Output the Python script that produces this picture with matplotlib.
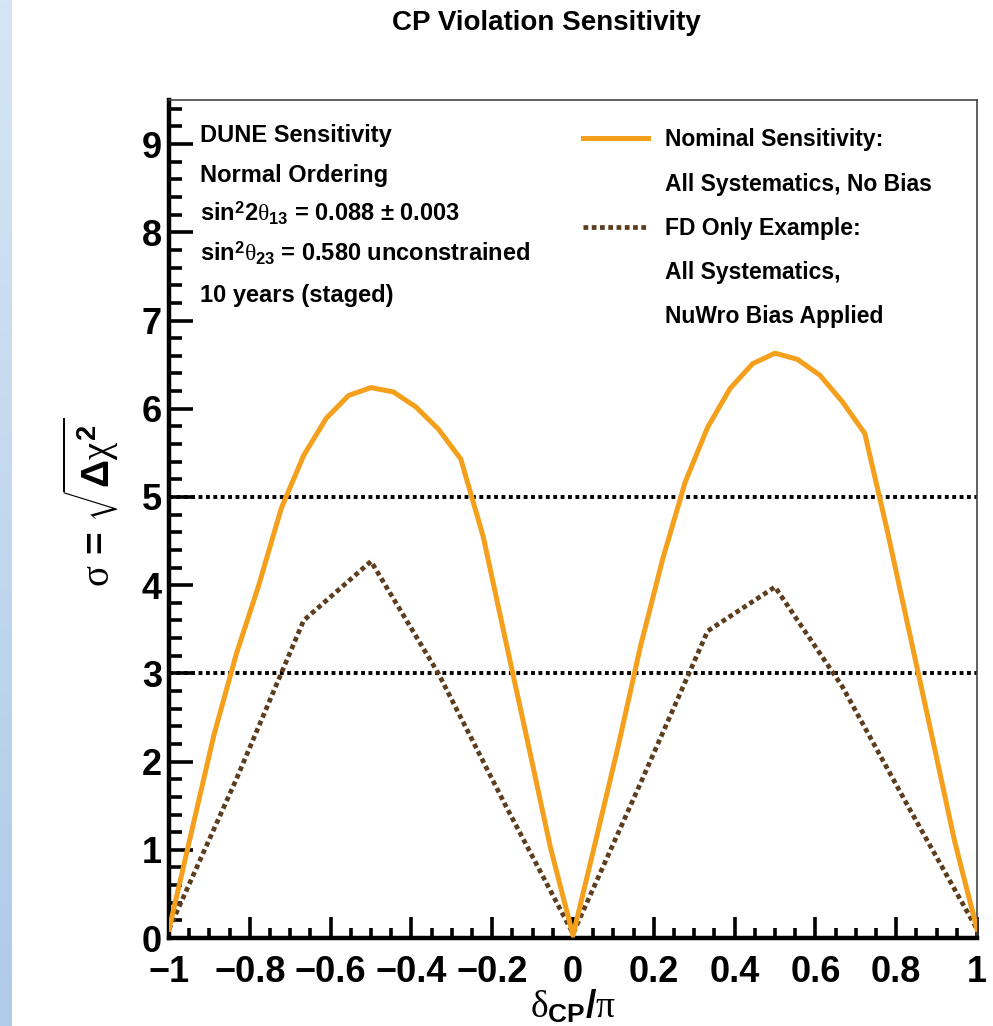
import numpy as np
import matplotlib
matplotlib.use("Agg")
import matplotlib.pyplot as plt
from matplotlib.lines import Line2D
from matplotlib.ticker import MultipleLocator

plt.rcParams['font.family'] = ['Liberation Sans', 'DejaVu Sans']
plt.rcParams['font.weight'] = 'bold'
plt.rcParams['mathtext.fontset'] = 'custom'
plt.rcParams['mathtext.rm'] = 'Liberation Sans:bold'
plt.rcParams['mathtext.bf'] = 'Liberation Sans:bold'
plt.rcParams['mathtext.it'] = 'Liberation Serif:normal'

# delta_CP sampling (degrees) for the nominal curve, 10 degree steps
nominal_deg = [-180, -170, -160, -150, -140, -130, -120, -110, -100, -90,
               -80, -70, -60, -50, -40, -30, -20, -10, 0,
               10, 20, 30, 40, 50, 60, 70, 80, 90,
               100, 110, 120, 130, 140, 150, 160, 170, 180]
nominal_sigma = [0.10, 1.20, 2.30, 3.22, 4.00, 4.87, 5.47, 5.89, 6.15, 6.24,
                 6.19, 6.02, 5.77, 5.43, 4.55, 3.37, 2.20, 1.02, 0.03,
                 1.09, 2.16, 3.30, 4.30, 5.17, 5.79, 6.23, 6.51, 6.63,
                 6.56, 6.38, 6.08, 5.72, 4.62, 3.45, 2.28, 1.10, 0.10]

# FD only example with NuWro bias, 30 degree steps
biased_deg = [-180, -150, -120, -90, -60, -30, 0, 30, 60, 90, 120, 150, 180]
biased_sigma = [0.10, 1.80, 3.60, 4.27, 3.00, 1.50, 0.05,
                1.75, 3.48, 3.98, 2.85, 1.46, 0.10]

sigma_levels = [3, 5]

info_lines = ["DUNE Sensitivity",
              "Normal Ordering",
              r"sin$^{2}$2$\theta_{13}$ = 0.088 $\pm$ 0.003",
              r"sin$^{2}$$\theta_{23}$ = 0.580 unconstrained",
              "10 years (staged)"]
legend_labels = ["Nominal Sensitivity:", "All Systematics, No Bias",
                 "FD Only Example:", "All Systematics,", "NuWro Bias Applied"]

orange = '#f4a01c'
brown = '#5c3d1e'

fig = plt.figure(figsize=(9.93, 10.26), dpi=100)

# light blue strip on the left edge
strip = fig.add_axes([0, 0, 12 / 993, 1])
strip.imshow(np.linspace(0, 1, 256).reshape(-1, 1), aspect='auto',
             cmap=matplotlib.colors.LinearSegmentedColormap.from_list(
                 'bg', ['#d6e5f4', '#aecbe9']))
strip.axis('off')

ax = fig.add_axes([169 / 993, 1 - 938 / 1026, 808 / 993, 838 / 1026])

x_nom = np.array(nominal_deg) / 180.0
x_bias = np.array(biased_deg) / 180.0

for lvl in sigma_levels:
    ax.axhline(lvl, color='black', lw=2.8, ls=(0, (1, 0.9)), zorder=1)

ax.plot(x_nom, nominal_sigma, color=orange, lw=3.6, zorder=3)
ax.plot(x_bias, biased_sigma, color=brown, lw=3.4, ls=(0, (1, 0.75)), zorder=2)

ax.set_xlim(-1, 1)
ax.set_ylim(0, 9.5)

ax.xaxis.set_major_locator(MultipleLocator(0.2))
ax.xaxis.set_minor_locator(MultipleLocator(0.05))
ax.yaxis.set_major_locator(MultipleLocator(1))
ax.yaxis.set_minor_locator(MultipleLocator(0.2))
ax.tick_params(axis='both', which='both', direction='in', top=False, right=False,
               width=2.6, labelsize=26)
ax.tick_params(axis='y', which='major', length=17, pad=5)
ax.tick_params(axis='y', which='minor', length=9)
ax.tick_params(axis='x', which='major', length=15, pad=12)
ax.tick_params(axis='x', which='minor', length=7.5)
ax.set_xticks([-1, -0.8, -0.6, -0.4, -0.2, 0, 0.2, 0.4, 0.6, 0.8, 1])
ax.set_xticklabels(['\u22121', '\u22120.8', '\u22120.6', '\u22120.4', '\u22120.2',
                    '0', '0.2', '0.4', '0.6', '0.8', '1'])

for side in ['left', 'bottom']:
    ax.spines[side].set_linewidth(3.2)
for side in ['top', 'right']:
    ax.spines[side].set_linewidth(1.2)
    ax.spines[side].set_color('#444444')

ax.set_xlabel(r'$\delta_{\mathrm{CP}}/\pi$', fontsize=27)
ax.xaxis.set_label_coords(0.5, -0.06)
ax.set_ylabel(r'$\sigma\,\mathrm{=}\,\sqrt{\Delta\chi^{2}}$', fontsize=28)
ax.yaxis.set_label_coords(-0.06, 0.52)

for i, line in enumerate(info_lines):
    ax.text(0.038, 0.9499 - i * 0.0477, line, transform=ax.transAxes,
            fontsize=17, fontweight='bold', va='baseline', ha='left')

handles = [Line2D([], [], color=orange, lw=3.6),
           Line2D([], [], color='none'),
           Line2D([], [], color=brown, lw=3.4, ls=(0, (1, 0.75))),
           Line2D([], [], color='none'),
           Line2D([], [], color='none')]
ax.legend(handles, legend_labels, loc='upper left', bbox_to_anchor=(0.512, 0.966),
          frameon=False, fontsize=16.5, handlelength=2.85, handletextpad=0.75,
          labelspacing=0.92, borderpad=0, borderaxespad=0)

fig.text(546 / 993, 1 - 23 / 1026, 'CP Violation Sensitivity', fontsize=20,
         fontweight='bold', ha='center', va='center')

fig.savefig('out.png', dpi=100)
